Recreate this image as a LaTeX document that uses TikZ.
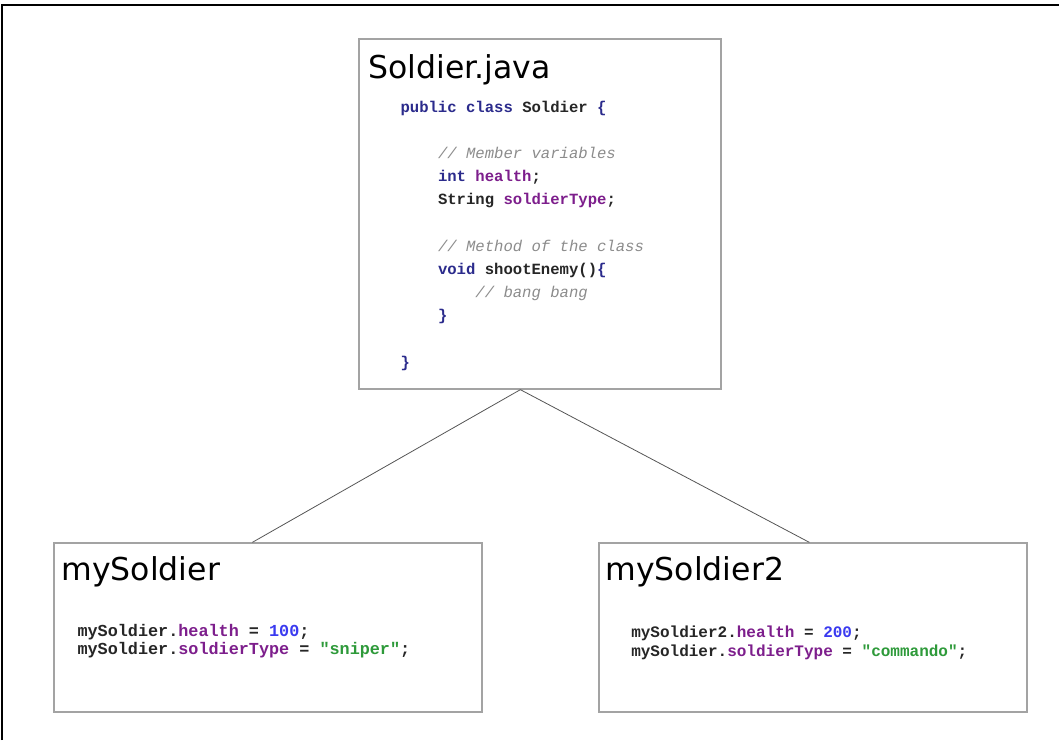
\documentclass[tikz,border=0pt]{standalone}
\usepackage{fontspec}
\setmainfont{DejaVu Sans}
\setmonofont{Liberation Mono}
\usetikzlibrary{positioning,shadows}
\definecolor{frameink}{HTML}{A3A3A3}
\definecolor{lineink}{HTML}{555555}
\definecolor{kwink}{HTML}{2B2B8C}
\definecolor{fldink}{HTML}{7D1E8C}
\definecolor{numink}{HTML}{3A3AF0}
\definecolor{strink}{HTML}{2E9A3A}
\definecolor{cmtink}{HTML}{8C8C8C}
\definecolor{txtink}{HTML}{262626}
\newcommand{\jkw}[1]{\textcolor{kwink}{#1}}
\newcommand{\jfld}[1]{\textcolor{fldink}{#1}}
\newcommand{\jnum}[1]{\textcolor{numink}{#1}}
\newcommand{\jstr}[1]{\textcolor{strink}{#1}}
\newcommand{\jcmt}[1]{\textcolor{cmtink}{\mdseries\itshape #1}}
\newcommand{\tab}{\phantom{xxxx}}

\begin{document}
\begin{tikzpicture}[x=1pt,y=-1pt,
  objbox/.style={draw=frameink,line width=1.3pt,fill=white,inner sep=0pt,
    drop shadow={shadow xshift=1.2pt,shadow yshift=-1.2pt,fill=black!20,opacity=1}},
  heading/.style={font=\fontsize{31.5}{36}\selectfont,text=black,inner sep=0pt,anchor=base west},
  listing/.style={font=\ttfamily\bfseries,text=txtink,inner sep=0pt,align=left,anchor=north west},
  link/.style={draw=lineink,line width=.8pt}]
\useasboundingbox (0,0) rectangle (1059,740);
% outer frame
\draw[black,line width=1.4pt] (2,740) -- (2,5) -- (1059,5);
% class and objects
\node[objbox,minimum width=362pt,minimum height=350pt] (cls) at (540,214) {};
\node[objbox,minimum width=428pt,minimum height=169pt] (obj1) at (268,627.5) {};
\node[objbox,minimum width=428pt,minimum height=169pt] (obj2) at (813,627.5) {};
\node[heading] (clstitle) at ([xshift=10pt,yshift=-39.7pt]cls.north west) {Soldier.java};
\node[heading] (obj1title) at ([xshift=8pt,yshift=-38pt]obj1.north west) {mySoldier};
\node[heading] (obj2title) at ([xshift=7pt,yshift=-38.5pt]obj2.north west) {mySoldier2};
\node[listing,font=\ttfamily\bfseries\fontsize{15.6}{23.2}\selectfont] (clscode)
  at ([xshift=42pt,yshift=-57.3pt]cls.north west) {%
  \strut\jkw{public class} Soldier \jkw{\{}\\[23.2pt]
  \tab\jcmt{// Member variables}\\
  \tab\jkw{int} \jfld{health};\\
  \tab String \jfld{soldierType};\\[23.2pt]
  \tab\jcmt{// Method of the class}\\
  \tab\jkw{void} shootEnemy()\jkw{\{}\\
  \tab\tab\jcmt{// bang bang}\\
  \tab\jkw{\}}\\[23.2pt]
  \jkw{\}}};
\node[listing,font=\ttfamily\bfseries\fontsize{16.8}{18.6}\selectfont] (obj1code)
  at ([xshift=24pt,yshift=-80.5pt]obj1.north west) {%
  \strut mySoldier.\jfld{health} = \jnum{100};\\
  mySoldier.\jfld{soldierType} = \jstr{"sniper"};};
\node[listing,font=\ttfamily\bfseries\fontsize{16}{18.4}\selectfont] (obj2code)
  at ([xshift=32.7pt,yshift=-82.4pt]obj2.north west) {%
  \strut mySoldier2.\jfld{health} = \jnum{200};\\
  mySoldier.\jfld{soldierType} = \jstr{"commando"};};
% instances
\draw[link] ([xshift=162pt]cls.south west) -- ([xshift=199pt]obj1.north west);
\draw[link] ([xshift=162pt]cls.south west) -- ([xshift=211pt]obj2.north west);
\end{tikzpicture}
\end{document}
